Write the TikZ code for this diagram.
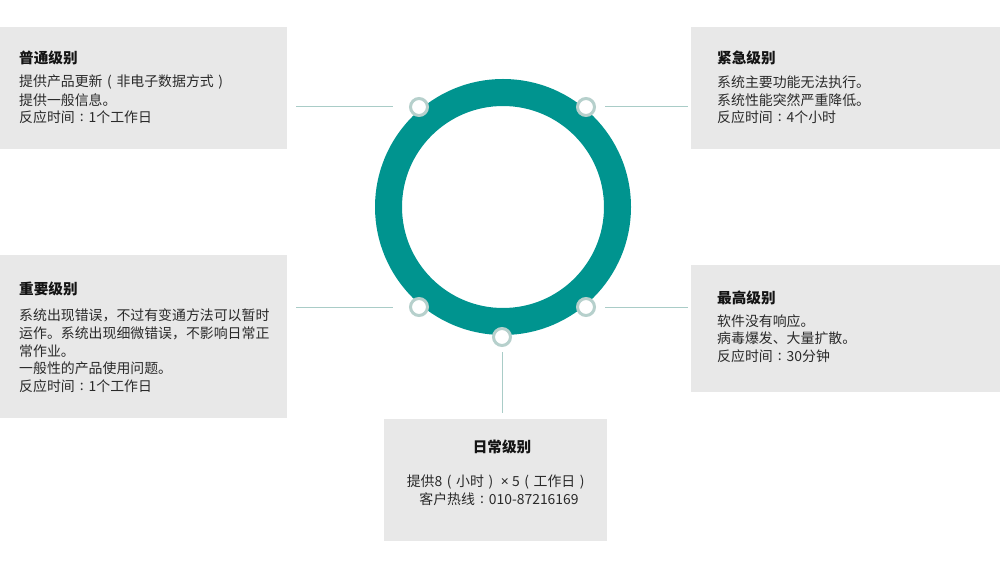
\documentclass[tikz,border=0pt]{standalone}
\usepackage{fontspec}
\newfontfamily\cjk{Noto Sans CJK SC}
\newfontfamily\latinsans{Noto Sans}
\newcommand\fwlp{\makebox[1em]{(}}
\newcommand\fwrp{\makebox[1em]{)}}
\newcommand\fwcol{\makebox[1em]{\raisebox{0.08em}{:}}}
\definecolor{boxgray}{HTML}{E8E8E8}
\definecolor{ringteal}{HTML}{00948F}
\definecolor{dotring}{HTML}{B6D0CC}
\definecolor{linkline}{HTML}{A9CCC7}
\definecolor{bodytext}{HTML}{2A2A2A}
\definecolor{titletext}{HTML}{141414}
\tikzset{
  panel/.style={rectangle, fill=boxgray, draw=none, inner sep=0pt, anchor=north west},
  ttl/.style={inner sep=0pt, text=titletext, font=\cjk\bfseries\fontsize{14.6}{17}\selectfont},
  txt/.style={inner sep=0pt, text=bodytext, font=\cjk\fontsize{13.9}{17}\selectfont},
  dot/.style={circle, draw=dotring, fill=white, line width=3pt, minimum size=17pt, inner sep=0pt},
  link/.style={draw=linkline, line width=1pt},
}
\begin{document}
\begin{tikzpicture}[x=1pt,y=-1pt]
\useasboundingbox (0,0) rectangle (1000,569);
% panels
\node[panel, minimum width=287pt, minimum height=122pt] (b1) at (0,27) {};
\node[panel, minimum width=309pt, minimum height=122pt] (b2) at (691,27) {};
\node[panel, minimum width=287pt, minimum height=163pt] (b3) at (0,255) {};
\node[panel, minimum width=309pt, minimum height=127pt] (b4) at (691,265) {};
\node[panel, minimum width=223pt, minimum height=122pt] (b5) at (384,419) {};
% ring
\node[circle, draw=ringteal, line width=27pt, minimum size=229pt, inner sep=0pt] (ring) at (503,207) {};
% dots
\node[dot] (c1) at (419,107) {};
\node[dot] (c2) at (586,107) {};
\node[dot] (c3) at (419,307) {};
\node[dot] (c4) at (586,307) {};
\node[dot] (c5) at (502,337) {};
% connectors
\draw[link, shorten <=9pt, shorten >=26pt] (b1.east |- c1) -- (c1.center);
\draw[link, shorten <=19pt, shorten >=3pt] (c2.center) -- (c2 -| b2.west);
\draw[link, shorten <=9pt, shorten >=26pt] (b3.east |- c3) -- (c3.center);
\draw[link, shorten <=19pt, shorten >=3pt] (c4.center) -- (c4 -| b4.west);
\draw[link, shorten <=15pt, shorten >=6pt] (c5.center) -- (c5 |- b5.north);
% texts box 1
\node[ttl, anchor=west] (t1) at (19,58) {普通级别};
\node[txt, anchor=west] (t1a) at (19,82) {提供产品更新\fwlp 非电子数据方式\fwrp};
\node[txt, anchor=west] (t1b) at (19,100) {提供一般信息。};
\node[txt, anchor=west] (t1c) at (19,117) {反应时间\fwcol 1个工作日};
% box 2
\node[ttl, anchor=west] (t2) at (717,58) {紧急级别};
\node[txt, anchor=west] (t2a) at (717,82) {系统主要功能无法执行。};
\node[txt, anchor=west] (t2b) at (717,100) {系统性能突然严重降低。};
\node[txt, anchor=west] (t2c) at (717,117) {反应时间\fwcol 4个小时};
% box 3
\node[ttl, anchor=west] (t3) at (19,289) {重要级别};
\node[txt, anchor=west] (t3a) at (19,315) {系统出现错误，不过有变通方法可以暂时};
\node[txt, anchor=west] (t3b) at (19,333) {运作。系统出现细微错误，不影响日常正};
\node[txt, anchor=west] (t3c) at (19,351) {常作业。};
\node[txt, anchor=west] (t3d) at (19,368) {一般性的产品使用问题。};
\node[txt, anchor=west] (t3e) at (19,386) {反应时间\fwcol 1个工作日};
% box 4
\node[ttl, anchor=west] (t4) at (717,298) {最高级别};
\node[txt, anchor=west] (t4a) at (717,321) {软件没有响应。};
\node[txt, anchor=west] (t4b) at (717,338) {病毒爆发、大量扩散。};
\node[txt, anchor=west] (t4c) at (717,356) {反应时间\fwcol 30分钟};
% box 5
\node[ttl] (t5) at (502,447) {日常级别};
\node[txt] (t5a) at (498,482) {提供8\fwlp 小时\fwrp\ {\latinsans ×} 5\fwlp 工作日\fwrp};
\node[txt] (t5b) at (499,499) {客户热线\fwcol 010-87216169};
\end{tikzpicture}
\end{document}
